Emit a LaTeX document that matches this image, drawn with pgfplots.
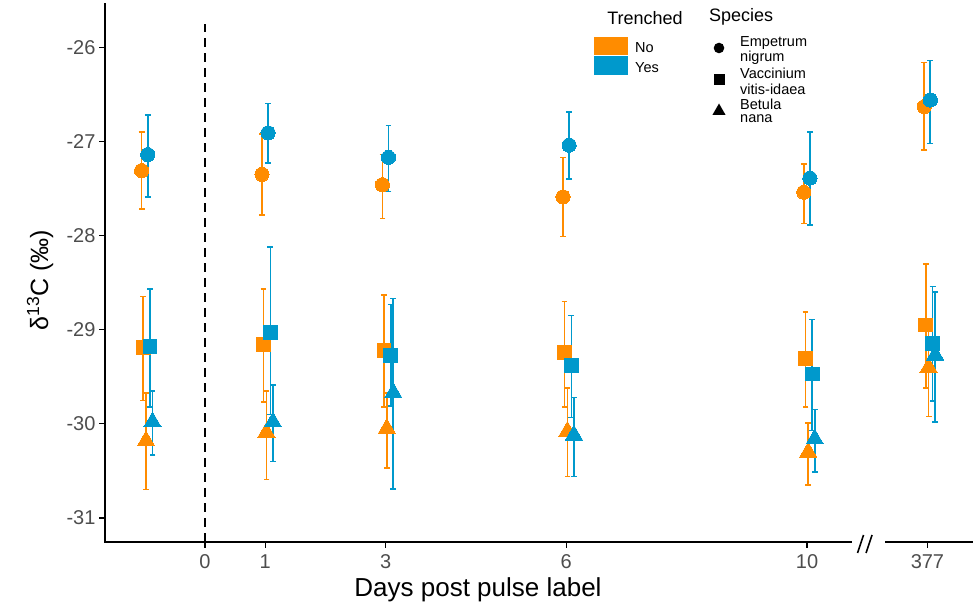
\documentclass[border=0pt]{standalone}
\usepackage{pgfplots}
\pgfplotsset{compat=1.18}
\usepackage{pgfplotstable}
\usepackage{fontspec}
\setmainfont{Liberation Sans}
\definecolor{corange}{RGB}{255,140,0}
\definecolor{cblue}{RGB}{0,153,204}
\definecolor{grey30}{RGB}{77,77,77}

% Empetrum nigrum (circle), No
\pgfplotstableread{
x y top bot
-1.053 -27.31 -26.90 -27.72
0.947 -27.35 -26.92 -27.78
2.947 -27.46 -27.14 -27.82
5.947 -27.59 -27.17 -28.01
9.947 -27.54 -27.24 -27.87
11.947 -26.63 -26.16 -27.09
}\OC
% Empetrum nigrum (circle), Yes
\pgfplotstableread{
x y top bot
-0.952 -27.14 -26.72 -27.59
1.048 -26.91 -26.60 -27.23
3.048 -27.17 -26.83 -27.53
6.048 -27.04 -26.69 -27.40
10.048 -27.39 -26.90 -27.89
12.048 -26.56 -26.14 -27.02
}\BC
% Vaccinium vitis-idaea (square), No
\pgfplotstableread{
x y top bot
-1.027 -29.19 -28.65 -29.75
0.973 -29.16 -28.57 -29.77
2.973 -29.22 -28.63 -29.82
5.973 -29.24 -28.70 -29.82
9.973 -29.31 -28.81 -29.82
11.973 -28.95 -28.30 -29.62
}\OS
% Vaccinium vitis-idaea (square), Yes
\pgfplotstableread{
x y top bot
-0.914 -29.18 -28.57 -29.82
1.086 -29.03 -28.12 -29.90
3.086 -29.27 -28.73 -29.81
6.086 -29.38 -28.85 -29.93
10.086 -29.47 -28.89 -30.07
12.086 -29.15 -28.54 -29.76
}\BS
% Betula nana (triangle), No
\pgfplotstableread{
x y top bot
-0.980 -30.18 -29.67 -30.70
1.020 -30.09 -29.65 -30.59
3.020 -30.05 -29.67 -30.47
6.020 -30.08 -29.62 -30.56
10.020 -30.30 -29.99 -30.65
12.020 -29.40 -28.95 -29.92
}\OT
% Betula nana (triangle), Yes
\pgfplotstableread{
x y top bot
-0.872 -29.98 -29.65 -30.33
1.128 -29.98 -29.59 -30.40
3.128 -29.67 -28.67 -30.69
6.128 -30.12 -29.72 -30.56
10.128 -30.16 -29.85 -30.51
12.128 -29.27 -28.60 -29.98
}\BT

\pgfplotsset{
  errpass/.style={only marks, mark=none, color=#1,
    error bars/.cd, y dir=both, y explicit,
    error mark=-,
    error bar style={line width=1.7bp, color=#1},
    error mark options={rotate=90, line width=1.5bp, mark size=2.9bp, color=#1}},
  markpass/.style 2 args={only marks, color=#1, mark=#2,
    mark options={solid, fill=#1, draw=#1, line width=0pt}},
}

\begin{document}
\begin{tikzpicture}
\path[use as bounding box] (0,0) rectangle (976bp,610bp);
\begin{axis}[
  at={(105bp,68bp)}, anchor=south west,
  width=868bp, height=539bp, scale only axis,
  xmin=-1.661, xmax=12.757, ymin=-31.255, ymax=-25.53,
  axis x line*=bottom, axis y line*=left,
  x axis line style={draw=none},
  y axis line style={line width=1.6bp, black, -},
  tick align=outside, major tick length=6bp,
  tick style={line width=1.2bp, black},
  xtick={0,1,3,6,10,12}, xticklabels={0,1,3,6,10,377},
  ytick={-31,-30,-29,-28,-27,-26},
  yticklabels={-31,-30,-29,-28,-27,-26},
  ticklabel style={font=\fontsize{20bp}{24bp}\selectfont, color=grey30},
  xticklabel style={yshift=-3bp},
  clip=false,
]
\draw[black, line width=1.8bp, dash pattern=on 9bp off 6bp] (axis cs:0,-31.255) -- (axis cs:0,-25.75);

\addplot[errpass=corange] table[x=x,y=y,y error plus expr=\thisrow{top}-\thisrow{y},y error minus expr=\thisrow{y}-\thisrow{bot}] {\OC};
\addplot[errpass=corange] table[x=x,y=y,y error plus expr=\thisrow{top}-\thisrow{y},y error minus expr=\thisrow{y}-\thisrow{bot}] {\OS};
\addplot[errpass=corange] table[x=x,y=y,y error plus expr=\thisrow{top}-\thisrow{y},y error minus expr=\thisrow{y}-\thisrow{bot}] {\OT};
\addplot[errpass=cblue] table[x=x,y=y,y error plus expr=\thisrow{top}-\thisrow{y},y error minus expr=\thisrow{y}-\thisrow{bot}] {\BC};
\addplot[errpass=cblue] table[x=x,y=y,y error plus expr=\thisrow{top}-\thisrow{y},y error minus expr=\thisrow{y}-\thisrow{bot}] {\BS};
\addplot[errpass=cblue] table[x=x,y=y,y error plus expr=\thisrow{top}-\thisrow{y},y error minus expr=\thisrow{y}-\thisrow{bot}] {\BT};

\addplot[markpass={corange}{*}, mark size=7.1bp] table[x=x,y=y] {\OC};
\addplot[markpass={corange}{square*}, mark size=6.9bp] table[x=x,y=y] {\OS};
\addplot[markpass={corange}{triangle*}, mark size=10bp] table[x=x,y=y] {\OT};
\addplot[markpass={cblue}{*}, mark size=7.1bp] table[x=x,y=y] {\BC};
\addplot[markpass={cblue}{square*}, mark size=6.9bp] table[x=x,y=y] {\BS};
\addplot[markpass={cblue}{triangle*}, mark size=10bp] table[x=x,y=y] {\BT};
\end{axis}

% broken x axis line
\draw[line width=1.6bp, black] (104.2bp,68bp) -- (852bp,68bp);
\draw[line width=1.6bp, black] (885bp,68bp) -- (973bp,68bp);
\draw[line width=1.6bp, black] (857.5bp,57bp) -- (863.5bp,75bp);
\draw[line width=1.6bp, black] (866bp,57bp) -- (872bp,75bp);

% axis titles
\node at (478bp,20bp) {\fontsize{26bp}{30bp}\selectfont Days post pulse label};
\node[rotate=90] at (40bp,330bp) {\fontsize{25bp}{30bp}\selectfont δ\textsuperscript{13}C (‰)};

% legend: Trenched
\node at (645bp,592bp) {\fontsize{18bp}{20bp}\selectfont Trenched};
\fill[corange] (594bp,555bp) rectangle (628bp,573bp);
\fill[cblue] (594bp,535bp) rectangle (628bp,553.5bp);
\node[anchor=west, inner sep=0pt] at (635bp,562bp) {\fontsize{14.5bp}{16bp}\selectfont No};
\node[anchor=west, inner sep=0pt] at (635bp,542bp) {\fontsize{14.5bp}{16bp}\selectfont Yes};

% legend: Species
\node[anchor=west, inner sep=0pt] at (709bp,593bp) {\fontsize{18bp}{20bp}\selectfont Species};
\fill[black] (719bp,562bp) circle (5.3bp);
\fill[black] (713.5bp,524.5bp) rectangle (724.5bp,535.5bp);
\fill[black] (719bp,506.5bp) -- (725.6bp,495bp) -- (712.4bp,495bp) -- cycle;
\begin{scope}[every node/.style={anchor=west, inner sep=0pt, font=\fontsize{14.5bp}{16bp}\selectfont}]
\node at (740bp,567bp) {Empetrum};
\node at (740bp,552bp) {nigrum};
\node at (740bp,537bp) {Vaccinium};
\node at (740bp,521bp) {vitis-idaea};
\node at (740bp,506bp) {Betula};
\node at (740bp,491bp) {nana};
\end{scope}
\end{tikzpicture}
\end{document}
